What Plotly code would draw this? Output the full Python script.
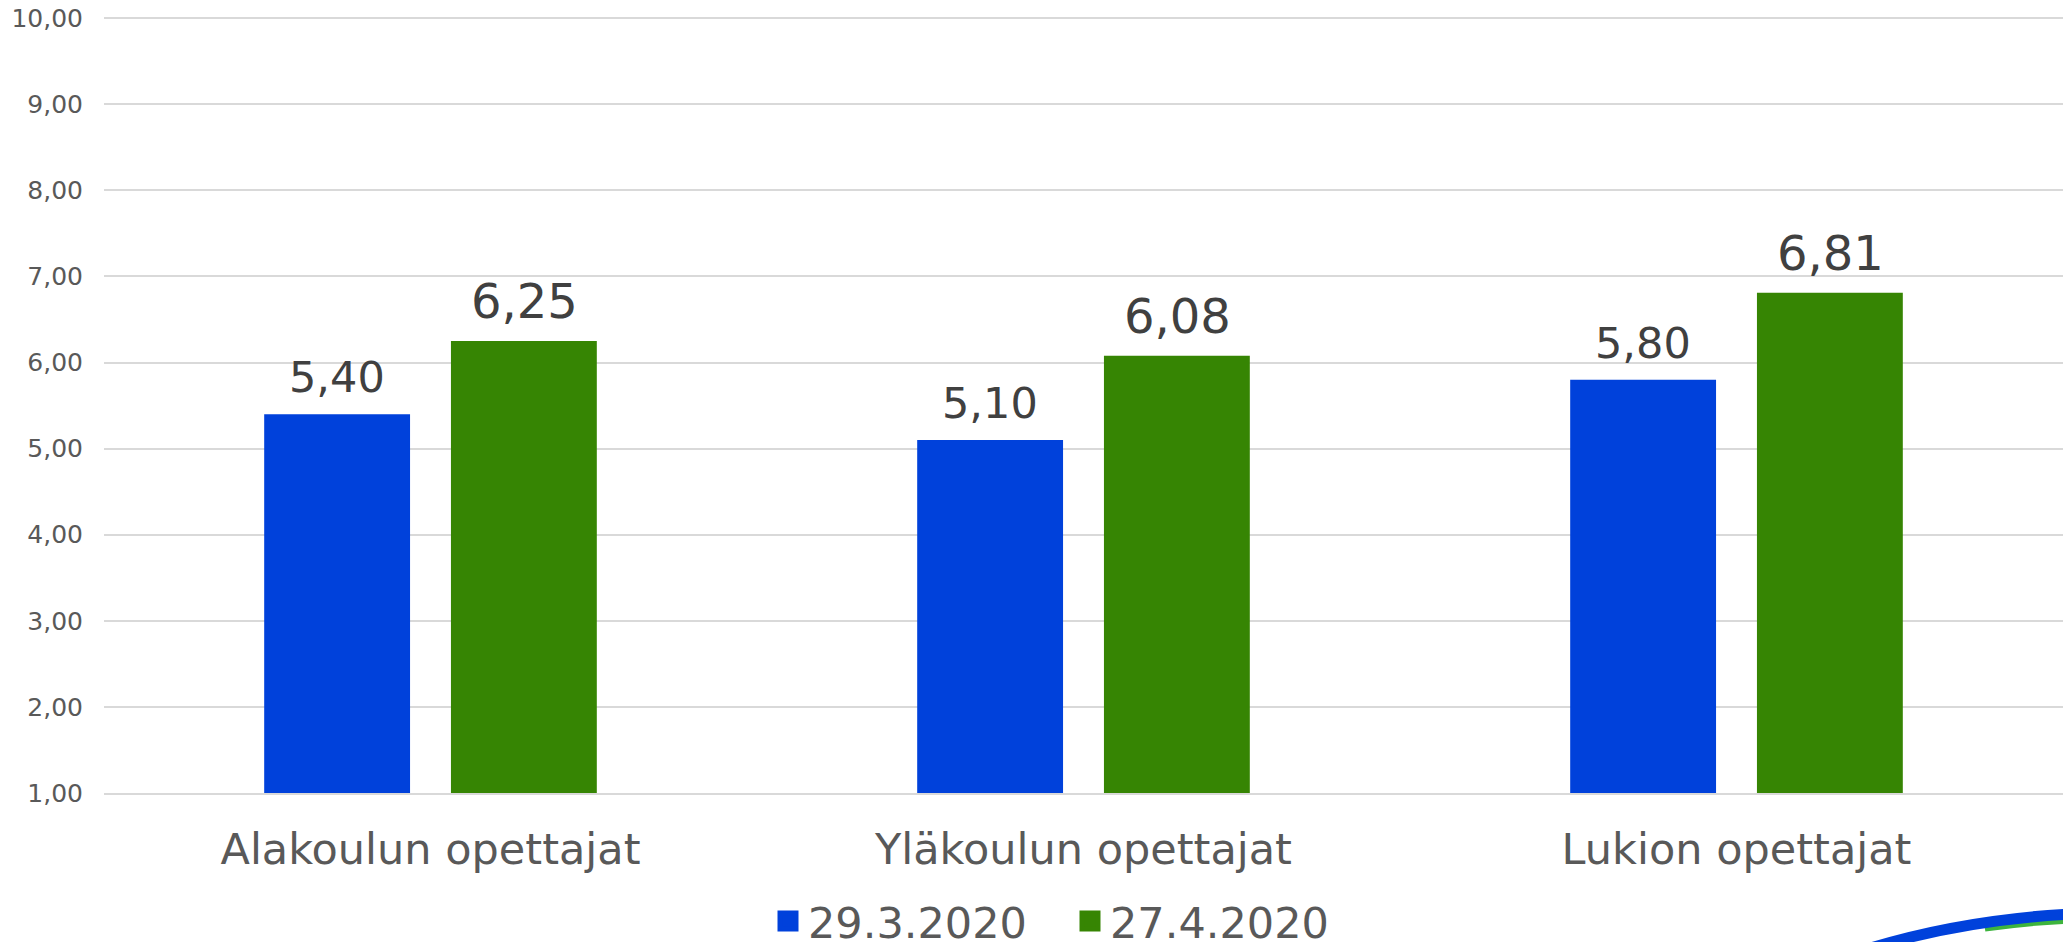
import plotly.graph_objects as go

categories = ["Alakoulun opettajat", "Yläkoulun opettajat", "Lukion opettajat"]
series_names = ["29.3.2020", "27.4.2020"]
values_mar = [5.40, 5.10, 5.80]
values_apr = [6.25, 6.08, 6.81]
y_ticks = [1, 2, 3, 4, 5, 6, 7, 8, 9, 10]

BLUE = "#0041DB"
GREEN = "#368503"
FONT = "Verdana, DejaVu Sans, sans-serif"

# figure geometry (page body margin removed via post_script)
W, H = 2063, 942
L, R, T, B = 104, 0, 16.4, 149
PW, PH = W - L - R, H - T - B


def px2paper(sx, sy):
    return (sx - L) / PW, (H - B - sy) / PH


fig = go.Figure()
fig.add_trace(go.Bar(x=categories, y=values_mar, name=series_names[0], showlegend=False,
                     marker=dict(color=BLUE, line=dict(width=0))))
fig.add_trace(go.Bar(x=categories, y=values_apr, name=series_names[1], showlegend=False,
                     marker=dict(color=GREEN, line=dict(width=0))))
# legend entries with square swatches
for nm, col in zip(series_names, [BLUE, GREEN]):
    fig.add_trace(go.Scatter(x=[None], y=[None], mode="markers", name=nm, showlegend=True,
                             marker=dict(symbol="square", size=16, color=col,
                                         line=dict(color=col, width=5))))

annotations = []
for cat, v in zip(categories, values_mar):
    annotations.append(dict(x=cat, y=v, xref="x", yref="y", text=f"{v:.2f}".replace(".", ","),
                            showarrow=False, xanchor="center", yanchor="bottom",
                            xshift=-93.5, yshift=10,
                            font=dict(family=FONT, size=43, color="#404040")))
for cat, v in zip(categories, values_apr):
    annotations.append(dict(x=cat, y=v, xref="x", yref="y", text=f"{v:.2f}".replace(".", ","),
                            showarrow=False, xanchor="center", yanchor="bottom",
                            xshift=93.5, yshift=10,
                            font=dict(family=FONT, size=48, color="#404040")))


def quad_path(p0, c, p1):
    a = px2paper(*p0)
    b = px2paper(*c)
    d = px2paper(*p1)
    return f"M {a[0]:.5f},{a[1]:.5f} Q {b[0]:.5f},{b[1]:.5f} {d[0]:.5f},{d[1]:.5f}"


shapes = [
    dict(type="path", xref="paper", yref="paper",
         path=quad_path((1985, 929), (2025, 923), (2070, 921)),
         line=dict(color="#3DB43D", width=5), layer="above"),
    dict(type="path", xref="paper", yref="paper",
         path=quad_path((1864, 950), (1960, 920), (2070, 914)),
         line=dict(color=BLUE, width=11), layer="above"),
]

lx, ly = px2paper(768, 921)

fig.update_layout(
    width=W, height=H,
    margin=dict(l=L, r=R, t=T, b=B, pad=0, autoexpand=False),
    paper_bgcolor="white", plot_bgcolor="white",
    separators=",.",
    barmode="group", bargap=0.428, bargroupgap=0.219,
    font=dict(family=FONT, color="#595959"),
    showlegend=True,
    legend=dict(orientation="h", x=lx, xanchor="left", y=ly, yanchor="middle",
                font=dict(family=FONT, size=43, color="#595959"),
                entrywidth=257, traceorder="normal", borderwidth=0,
                bgcolor="rgba(0,0,0,0)"),
    annotations=annotations,
    shapes=shapes,
)
fig.update_xaxes(showgrid=False, showline=True, linecolor="#D9D9D9", linewidth=2,
                 ticks="", tickfont=dict(family=FONT, size=43, color="#595959"),
                 ticklabelstandoff=17)
fig.update_yaxes(range=[1, 10.025], tickvals=y_ticks, tickformat=".2f",
                 showgrid=True, gridcolor="#D9D9D9", gridwidth=1.5,
                 zeroline=False, showline=False, ticks="",
                 tickfont=dict(family=FONT, size=25, color="#595959"),
                 ticklabelstandoff=20, ticklabeloverflow="allow")

fig.write_html("out.html",
               config={"displayModeBar": False},
               post_script="document.body.style.margin='0';document.body.style.overflow='hidden';")
